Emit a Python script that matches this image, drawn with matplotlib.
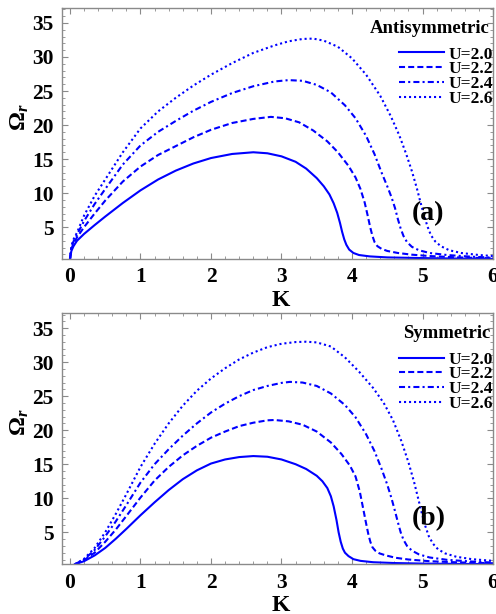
import matplotlib

matplotlib.use("Agg")
import matplotlib.pyplot as plt
from matplotlib.ticker import MultipleLocator

plt.rcParams["font.family"] = ["Liberation Serif", "DejaVu Serif"]
plt.rcParams["font.weight"] = "bold"
plt.rcParams["mathtext.fontset"] = "custom"
plt.rcParams["mathtext.rm"] = "Liberation Serif:bold"
plt.rcParams["mathtext.it"] = "Liberation Serif:italic:bold"
plt.rcParams["mathtext.bf"] = "Liberation Serif:bold"

labels = ["U=2.0", "U=2.2", "U=2.4", "U=2.6"]

# (a) antisymmetric mode
k_a20 = [0.0, 0.02, 0.05, 0.1, 0.2, 0.35, 0.5, 0.75, 1.0, 1.25, 1.5, 1.75, 2.0, 2.3, 2.6,
         2.8, 3.0, 3.2, 3.35, 3.5, 3.6, 3.68, 3.74, 3.79, 3.83, 3.86, 3.89, 3.92, 3.96, 4.02,
         4.1, 4.25, 4.5, 5.0, 5.5, 6.0]
om_a20 = [0.3, 1.5, 2.2, 3.0, 4.0, 5.3, 6.55, 8.55, 10.4, 12.0, 13.3, 14.35, 15.15, 15.75, 16.0,
          15.85, 15.4, 14.6, 13.6, 12.2, 11.0, 9.8, 8.5, 7.1, 5.6, 4.3, 3.2, 2.4, 1.7, 1.2,
          0.9, 0.7, 0.55, 0.45, 0.38, 0.33]

k_a22 = [0.0, 0.02, 0.05, 0.1, 0.2, 0.35, 0.5, 0.75, 1.0, 1.25, 1.5, 1.75, 2.0, 2.3, 2.6,
         2.85, 3.05, 3.25, 3.45, 3.65, 3.8, 3.95, 4.05, 4.12, 4.18, 4.22, 4.26, 4.29, 4.32,
         4.36, 4.42, 4.5, 4.65, 4.85, 5.1, 5.5, 6.0]
om_a22 = [0.3, 1.8, 2.6, 3.5, 5.0, 7.0, 8.9, 11.7, 13.9, 15.6, 16.9, 18.2, 19.3, 20.3, 20.9,
          21.2, 21.0, 20.4, 19.2, 17.6, 16.0, 14.0, 12.3, 10.6, 8.6, 6.8, 4.9, 3.7, 2.8,
          2.2, 1.8, 1.5, 1.2, 0.95, 0.75, 0.55, 0.42]

k_a24 = [0.0, 0.02, 0.05, 0.1, 0.2, 0.35, 0.5, 0.75, 1.0, 1.25, 1.5, 1.75, 2.0, 2.3, 2.6,
         2.9, 3.1, 3.3, 3.5, 3.7, 3.9, 4.05, 4.2, 4.32, 4.42, 4.5, 4.56, 4.61, 4.65, 4.69,
         4.73, 4.78, 4.85, 4.95, 5.1, 5.35, 5.7, 6.0]
om_a24 = [0.3, 2.0, 2.9, 3.9, 5.9, 8.4, 10.6, 14.2, 17.0, 19.0, 20.6, 22.1, 23.4, 24.7, 25.7,
          26.4, 26.6, 26.5, 25.9, 24.8, 22.9, 21.0, 18.4, 15.7, 13.0, 11.0, 9.4, 7.8, 6.2, 4.8,
          3.7, 2.8, 2.1, 1.6, 1.2, 0.9, 0.65, 0.52]

k_a26 = [0.0, 0.02, 0.05, 0.1, 0.2, 0.35, 0.5, 0.75, 1.0, 1.25, 1.5, 1.75, 2.0, 2.3, 2.6,
         2.9, 3.1, 3.3, 3.45, 3.6, 3.8, 4.0, 4.2, 4.4, 4.55, 4.67, 4.77, 4.85, 4.92, 4.97,
         5.02, 5.07, 5.12, 5.18, 5.26, 5.38, 5.55, 5.8, 6.0]
om_a26 = [0.3, 2.2, 3.2, 4.2, 6.7, 9.6, 12.0, 16.0, 19.5, 22.0, 24.0, 25.8, 27.4, 29.1, 30.6,
          31.7, 32.3, 32.65, 32.7, 32.4, 31.5, 29.8, 27.4, 24.3, 21.3, 18.5, 15.7, 13.2, 10.7,
          8.7, 6.8, 5.1, 3.8, 2.9, 2.2, 1.6, 1.2, 0.9, 0.75]

# (b) symmetric mode
k_b20 = [0.07, 0.2, 0.35, 0.5, 0.65, 0.8, 1.0, 1.2, 1.4, 1.6, 1.8, 2.0, 2.2, 2.4, 2.6,
         2.8, 3.0, 3.2, 3.35, 3.5, 3.58, 3.65, 3.7, 3.74, 3.78, 3.81, 3.84, 3.87, 3.9, 3.95,
         4.02, 4.12, 4.3, 4.6, 5.0, 5.5, 6.0]
om_b20 = [0.3, 0.75, 1.6, 2.7, 4.05, 5.5, 7.5, 9.4, 11.2, 12.8, 14.1, 15.1, 15.7, 16.05, 16.2,
          16.1, 15.7, 15.0, 14.3, 13.3, 12.5, 11.5, 10.3, 8.8, 6.8, 5.0, 3.6, 2.6, 2.0, 1.5,
          1.05, 0.8, 0.6, 0.48, 0.4, 0.35, 0.32]

k_b22 = [0.07, 0.2, 0.35, 0.5, 0.65, 0.8, 1.0, 1.2, 1.4, 1.6, 1.8, 2.0, 2.2, 2.4, 2.6,
         2.8, 2.9, 3.1, 3.3, 3.5, 3.7, 3.85, 3.97, 4.05, 4.11, 4.16, 4.2, 4.23, 4.26, 4.29,
         4.33, 4.39, 4.48, 4.62, 4.8, 5.1, 5.5, 6.0]
om_b22 = [0.3, 0.9, 2.0, 3.6, 5.4, 7.4, 10.1, 12.6, 14.6, 16.3, 17.7, 18.9, 19.8, 20.6, 21.1,
          21.45, 21.5, 21.3, 20.8, 19.8, 18.2, 16.5, 14.8, 13.2, 11.0, 8.4, 6.3, 4.8, 3.6, 2.8,
          2.3, 1.9, 1.6, 1.25, 1.0, 0.75, 0.58, 0.45]

k_b24 = [0.07, 0.2, 0.35, 0.5, 0.65, 0.8, 1.0, 1.2, 1.4, 1.6, 1.8, 2.0, 2.2, 2.4, 2.6,
         2.8, 3.0, 3.12, 3.3, 3.5, 3.7, 3.9, 4.05, 4.2, 4.32, 4.42, 4.5, 4.56, 4.61, 4.65,
         4.69, 4.73, 4.78, 4.85, 4.95, 5.1, 5.35, 5.7, 6.0]
om_b24 = [0.3, 1.0, 2.4, 4.4, 6.6, 9.0, 12.3, 15.0, 17.2, 19.2, 21.0, 22.6, 23.9, 25.0, 25.9,
          26.5, 26.95, 27.1, 27.0, 26.5, 25.4, 23.7, 21.9, 19.4, 16.9, 14.3, 12.0, 10.0, 8.1,
          6.5, 5.0, 3.9, 3.0, 2.3, 1.75, 1.3, 0.95, 0.7, 0.55]

k_b26 = [0.07, 0.2, 0.35, 0.5, 0.65, 0.8, 1.0, 1.2, 1.4, 1.6, 1.8, 2.0, 2.2, 2.4, 2.6,
         2.8, 3.0, 3.2, 3.35, 3.5, 3.7, 3.9, 4.1, 4.3, 4.45, 4.58, 4.7, 4.8, 4.88, 4.94,
         4.99, 5.04, 5.09, 5.15, 5.22, 5.32, 5.48, 5.7, 6.0]
om_b26 = [0.3, 1.1, 2.7, 5.0, 7.7, 10.6, 14.6, 18.0, 21.0, 23.6, 25.8, 27.6, 29.1, 30.4, 31.4,
          32.2, 32.7, 32.95, 33.0, 32.9, 32.3, 30.7, 28.6, 26.2, 24.0, 21.5, 18.4, 15.3, 12.4,
          9.9, 7.8, 5.9, 4.4, 3.3, 2.5, 1.9, 1.4, 1.05, 0.8]

styles = ["-", (0, (2.9, 1.5)), (0, (2.9, 1.5, 1.0, 1.5)), (0, (1.0, 1.4))]
blue = "#0000ff"
frame = "#8a8a8a"


def draw_panel(ax, curves, title, tag):
    for (k, om), ls, lab in zip(curves, styles, labels):
        ax.plot(k, om, color=blue, lw=1.5, linestyle=ls, label=lab)

    ax.set_xlim(-0.113, 6.0)
    ax.set_ylim(0.3, 37.2)
    ax.xaxis.set_major_locator(MultipleLocator(1))
    ax.xaxis.set_minor_locator(MultipleLocator(0.2))
    ax.yaxis.set_minor_locator(MultipleLocator(1))
    ax.set_yticks([5, 10, 15, 20, 25, 30, 35])
    ax.tick_params(which="both", direction="in", top=True, right=True, color=frame)
    ax.tick_params(which="major", length=4, width=0.8, labelsize=15.5, pad=6)
    ax.tick_params(which="minor", length=2, width=0.6)
    for s in ax.spines.values():
        s.set_color(frame)
        s.set_linewidth(1.0)
    for t in ax.get_xticklabels() + ax.get_yticklabels():
        t.set_fontweight("bold")

    ax.set_xlabel("K", fontsize=17, fontweight="bold", va="center")
    ax.xaxis.set_label_coords(0.508, -0.163)
    ax.set_ylabel(r"$\Omega_r$", fontsize=17, rotation=90, va="center", ha="center")
    ax.yaxis.set_label_coords(-0.097, 0.565)

    ax.text(0.993, 0.92, title, transform=ax.transAxes, ha="right", va="center",
            fontsize=13.5, fontweight="bold")
    leg = ax.legend(loc="upper right", bbox_to_anchor=(1.0, 0.847), frameon=False,
                    fontsize=12.5, labelspacing=-0.08, handlelength=2.6,
                    handletextpad=0.25, borderaxespad=0, borderpad=0)
    for t in leg.get_texts():
        t.set_fontweight("bold")
    ax.text(0.85, 0.18, tag, transform=ax.transAxes, ha="center", va="center",
            fontsize=20, fontweight="bold")


fig = plt.figure(figsize=(4.96, 6.14), dpi=100)
ax1 = fig.add_axes([0.125, 0.578, 0.869, 0.409])
ax2 = fig.add_axes([0.125, 0.081, 0.869, 0.409])

draw_panel(ax1, [(k_a20, om_a20), (k_a22, om_a22), (k_a24, om_a24), (k_a26, om_a26)],
           "Antisymmetric", "(a)")
draw_panel(ax2, [(k_b20, om_b20), (k_b22, om_b22), (k_b24, om_b24), (k_b26, om_b26)],
           "Symmetric", "(b)")

fig.savefig("out.png", dpi=100)
